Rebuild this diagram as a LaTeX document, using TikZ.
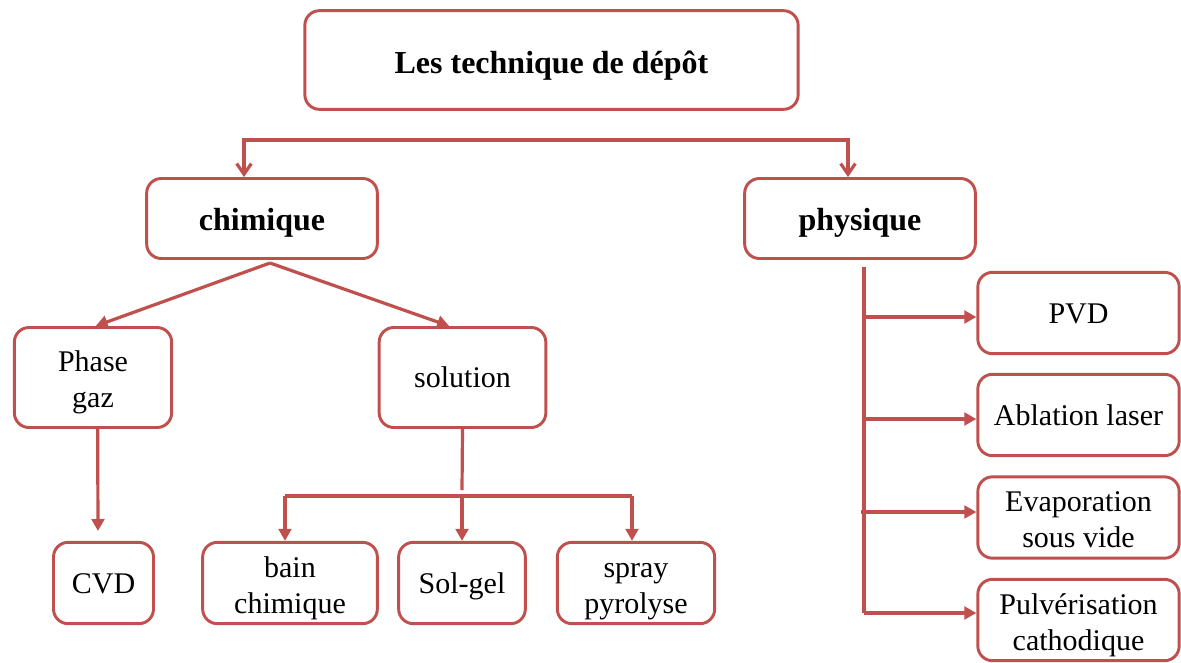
\documentclass[tikz,border=0pt]{standalone}
\usepackage{fontspec}
\setmainfont{Liberation Serif}
\usetikzlibrary{arrows.meta}
\definecolor{boxred}{RGB}{192,80,77}
\begin{document}
\begin{tikzpicture}[x=0.75pt,y=-0.75pt,
    box/.style={draw=boxred, line width=2.2pt, rounded corners=11pt, align=center,
      font=\fontsize{22.5}{27}\selectfont, inner sep=0pt, text height=20pt, text depth=5pt},
    twoline/.style={box, text height=50.5pt, text depth=4.8pt},
    headbox/.style={box, font=\fontsize{24}{28}\selectfont\bfseries, text height=21.5pt, text depth=4.2pt},
    conn/.style={draw=boxred, line width=2.4pt},
    arr/.style={conn, -{Triangle[length=9pt,width=9.5pt]}},
    barb/.style={conn, {Straight Barb[length=8pt,width=11pt]}-{Straight Barb[length=8pt,width=11pt]}}]
    \useasboundingbox (0,0) rectangle (1181,662);
    % levels
    \node[headbox, minimum width=370pt, minimum height=74pt, text height=22pt, text depth=2.5pt] (titre) at (551.5,60) {Les technique de dépôt};
    \node[headbox, minimum width=173pt, minimum height=60pt] (chimique) at (262,218.5) {chimique};
    \node[headbox, minimum width=173pt, minimum height=60pt] (physique) at (860,218.5) {physique};
    \node[twoline, minimum width=118pt, minimum height=75pt] (phase) at (93,377.5) {Phase\\gaz};
    \node[box, minimum width=125pt, minimum height=75pt] (solution) at (462.5,377.5) {solution};
    \node[box, minimum width=75pt, minimum height=61pt] (cvd) at (103.5,583) {CVD};
    \node[twoline, minimum width=131pt, minimum height=61pt] (bain) at (290,583) {bain\\chimique};
    \node[box, minimum width=95pt, minimum height=61pt] (solgel) at (462,583) {Sol-gel};
    \node[twoline, minimum width=118pt, minimum height=61pt] (spray) at (636,583) {spray\\pyrolyse};
    \node[box, minimum width=151pt, minimum height=61pt] (pvd) at (1078.5,313) {PVD};
    \node[box, minimum width=151pt, minimum height=61pt] (ablation) at (1078.5,415) {Ablation laser};
    \node[twoline, minimum width=151pt, minimum height=61pt] (evap) at (1078.5,517.5) {Evaporation\\sous vide};
    \node[twoline, minimum width=151pt, minimum height=61pt] (pulv) at (1078.5,620) {Pulvérisation\\cathodique};
    % free ends
    \coordinate (topL) at (244,140);
    \coordinate (topR) at (848,140);
    \coordinate (chimfork) at (270,263);
    \coordinate (cvdtip) at (98,531);
    \coordinate (solstem) at (462,490);
    \coordinate (solL) at (285,496);
    \coordinate (solR) at (632,496);
    \coordinate (phystem) at (864,267);
    \coordinate (physend) at (864,613);
    % connectors
    \draw[barb] (topL |- chimique.north) -- (topL) -- (topR) -- (topR |- physique.north);
    \draw[arr] (chimfork) -- ([xshift=2pt]phase.north);
    \draw[arr] (chimfork) -- ([xshift=-10pt]solution.north);
    \draw[arr] ([xshift=3.5pt]phase.south) -- (cvdtip);
    \draw[conn] (solution.south) -- (solstem);
    \draw[conn] (solL) -- (solR);
    \draw[arr] (solL) -- (solL |- bain.north);
    \draw[arr] (solstem |- solL) -- (solgel.north);
    \draw[arr] (solR) -- (solR |- spray.north);
    \draw[conn] (phystem) -- (physend);
    \draw[arr] (864,317) -- (pvd.west |- 864,317);
    \draw[arr] (864,419) -- (ablation.west |- 864,419);
    \draw[arr] (861,512) -- (evap.west |- 861,512);
    \draw[arr] (physend) -- (pulv.west |- physend);
\end{tikzpicture}
\end{document}
